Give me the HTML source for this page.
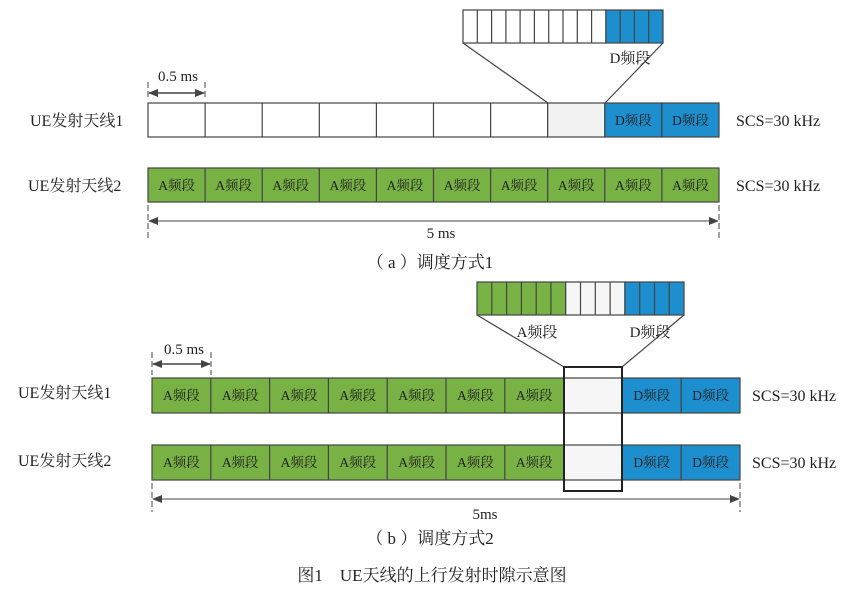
<!DOCTYPE html>
<html><head><meta charset="utf-8"><style>
html,body{margin:0;padding:0;background:#fff}
svg{display:block}
text{font-family:"Liberation Serif","Noto Serif CJK SC",serif;font-size:13.5px;fill:#222}
.c{text-anchor:middle}
.l{font-size:16px}
.m{font-size:15px}
.cap{font-size:17px}
</style></head><body>
<svg width="863" height="592" viewBox="0 0 863 592" xmlns="http://www.w3.org/2000/svg">
<defs>
<marker id="ar" markerWidth="10" markerHeight="8" refX="9" refY="4" orient="auto-start-reverse" markerUnits="userSpaceOnUse"><path d="M0,0 L10,4 L0,8 z" fill="#444"/></marker>
</defs>
<g stroke="#444" stroke-width="1.2">
<rect x="463" y="10" width="142.9" height="33" fill="#fff"/>
<rect x="605.9" y="10" width="57.1" height="33" fill="#1e8fce"/>
<path d="M477.3 10V43M491.6 10V43M505.9 10V43M520.1 10V43M534.4 10V43M548.7 10V43M563 10V43M577.3 10V43M591.6 10V43M620.1 10V43M634.4 10V43M648.7 10V43" fill="none"/>
<path d="M463 43L548 103M663 43L605 103" fill="none"/>
<rect x="148" y="103" width="399.7" height="34" fill="#fff"/>
<path d="M205.1 103V137M262.2 103V137M319.3 103V137M376.4 103V137M433.5 103V137M490.6 103V137" fill="none"/>
<rect x="547.7" y="103" width="57.1" height="34" fill="#f2f2f2"/>
<rect x="604.8" y="103" width="57.1" height="34" fill="#1e8fce"/>
<rect x="661.9" y="103" width="57.1" height="34" fill="#1e8fce"/>
<rect x="148" y="168" width="571" height="34" fill="#78b244"/>
<path d="M205.1 168V202M262.2 168V202M319.3 168V202M376.4 168V202M433.5 168V202M490.6 168V202M547.7 168V202M604.8 168V202M661.9 168V202" fill="none"/>
</g>
<g stroke="#444" stroke-width="1">
<path d="M148 82V100M205 82V100M148 205V238M719 205V238" stroke-dasharray="6,3" fill="none"/>
<line x1="149" y1="93" x2="204" y2="93" marker-start="url(#ar)" marker-end="url(#ar)" stroke-width="1.5"/>
<line x1="149" y1="221" x2="718" y2="221" marker-start="url(#ar)" marker-end="url(#ar)"/>
</g>
<text x="630" y="63" class="c m">D频段</text>
<text x="178" y="81" class="c m">0.5 ms</text>
<text x="30" y="126" class="l">UE发射天线1</text>
<text x="28" y="191" class="l">UE发射天线2</text>
<text x="736" y="126" class="l">SCS=30 kHz</text>
<text x="736" y="191" class="l">SCS=30 kHz</text>
<text x="633.4" y="125" class="c">D频段</text><text x="690.5" y="125" class="c">D频段</text>
<text x="176.6" y="190" class="c">A频段</text><text x="233.7" y="190" class="c">A频段</text><text x="290.8" y="190" class="c">A频段</text><text x="347.9" y="190" class="c">A频段</text><text x="405" y="190" class="c">A频段</text><text x="462.1" y="190" class="c">A频段</text><text x="519.2" y="190" class="c">A频段</text><text x="576.3" y="190" class="c">A频段</text><text x="633.4" y="190" class="c">A频段</text><text x="690.5" y="190" class="c">A频段</text>
<text x="441" y="238" class="c m">5 ms</text>
<text x="430" y="268" class="c cap">（ a ）调度方式1</text>

<g stroke="#444" stroke-width="1.2">
<rect x="477" y="282" width="88.7" height="33" fill="#78b244"/>
<rect x="565.7" y="282" width="59.2" height="33" fill="#f6f6f6"/>
<rect x="624.9" y="282" width="59.1" height="33" fill="#1e8fce"/>
<path d="M491.8 282V315M506.6 282V315M521.4 282V315M536.2 282V315M550.9 282V315M580.5 282V315M595.3 282V315M610.1 282V315M639.7 282V315M654.5 282V315M669.2 282V315" fill="none"/>
<path d="M477 315L564 367M684 315L622 367" fill="none"/>
<rect x="152" y="378" width="411.6" height="35" fill="#78b244"/>
<rect x="152" y="445" width="411.6" height="35" fill="#78b244"/>
<path d="M210.8 378V413M269.6 378V413M328.4 378V413M387.2 378V413M446 378V413M504.8 378V413M210.8 445V480M269.6 445V480M328.4 445V480M387.2 445V480M446 445V480M504.8 445V480" fill="none"/>
<rect x="622.4" y="378" width="58.8" height="35" fill="#1e8fce"/>
<rect x="681.2" y="378" width="58.8" height="35" fill="#1e8fce"/>
<rect x="622.4" y="445" width="58.8" height="35" fill="#1e8fce"/>
<rect x="681.2" y="445" width="58.8" height="35" fill="#1e8fce"/>
<rect x="563.6" y="378" width="58.8" height="35" fill="#f6f6f6"/>
<rect x="563.6" y="445" width="58.8" height="35" fill="#f6f6f6"/>
<rect x="564" y="367" width="58" height="124" fill="none" stroke="#222" stroke-width="2"/>
</g>
<g stroke="#444" stroke-width="1">
<path d="M152 352V375M211 352V375M152 483V512M740 483V512" stroke-dasharray="6,3" fill="none"/>
<line x1="153" y1="364" x2="210" y2="364" marker-start="url(#ar)" marker-end="url(#ar)" stroke-width="1.5"/>
<line x1="153" y1="499" x2="739" y2="499" marker-start="url(#ar)" marker-end="url(#ar)"/>
</g>
<text x="537" y="337" class="c m">A频段</text>
<text x="650" y="337" class="c m">D频段</text>
<text x="184" y="354" class="c m">0.5 ms</text>
<text x="18" y="398" class="l">UE发射天线1</text>
<text x="18" y="466" class="l">UE发射天线2</text>
<text x="752" y="401" class="l">SCS=30 kHz</text>
<text x="752" y="468" class="l">SCS=30 kHz</text>
<text x="181.4" y="400" class="c">A频段</text><text x="240.2" y="400" class="c">A频段</text><text x="299" y="400" class="c">A频段</text><text x="357.8" y="400" class="c">A频段</text><text x="416.6" y="400" class="c">A频段</text><text x="475.4" y="400" class="c">A频段</text><text x="534.2" y="400" class="c">A频段</text><text x="651.8" y="400" class="c">D频段</text><text x="710.6" y="400" class="c">D频段</text>
<text x="181.4" y="467" class="c">A频段</text><text x="240.2" y="467" class="c">A频段</text><text x="299" y="467" class="c">A频段</text><text x="357.8" y="467" class="c">A频段</text><text x="416.6" y="467" class="c">A频段</text><text x="475.4" y="467" class="c">A频段</text><text x="534.2" y="467" class="c">A频段</text><text x="651.8" y="467" class="c">D频段</text><text x="710.6" y="467" class="c">D频段</text>
<text x="485" y="519" class="c m">5ms</text>
<text x="430" y="544" class="c cap">（ b ）调度方式2</text>
<text x="432" y="581" class="c cap">图1　UE天线的上行发射时隙示意图</text>
</svg>
</body></html>
